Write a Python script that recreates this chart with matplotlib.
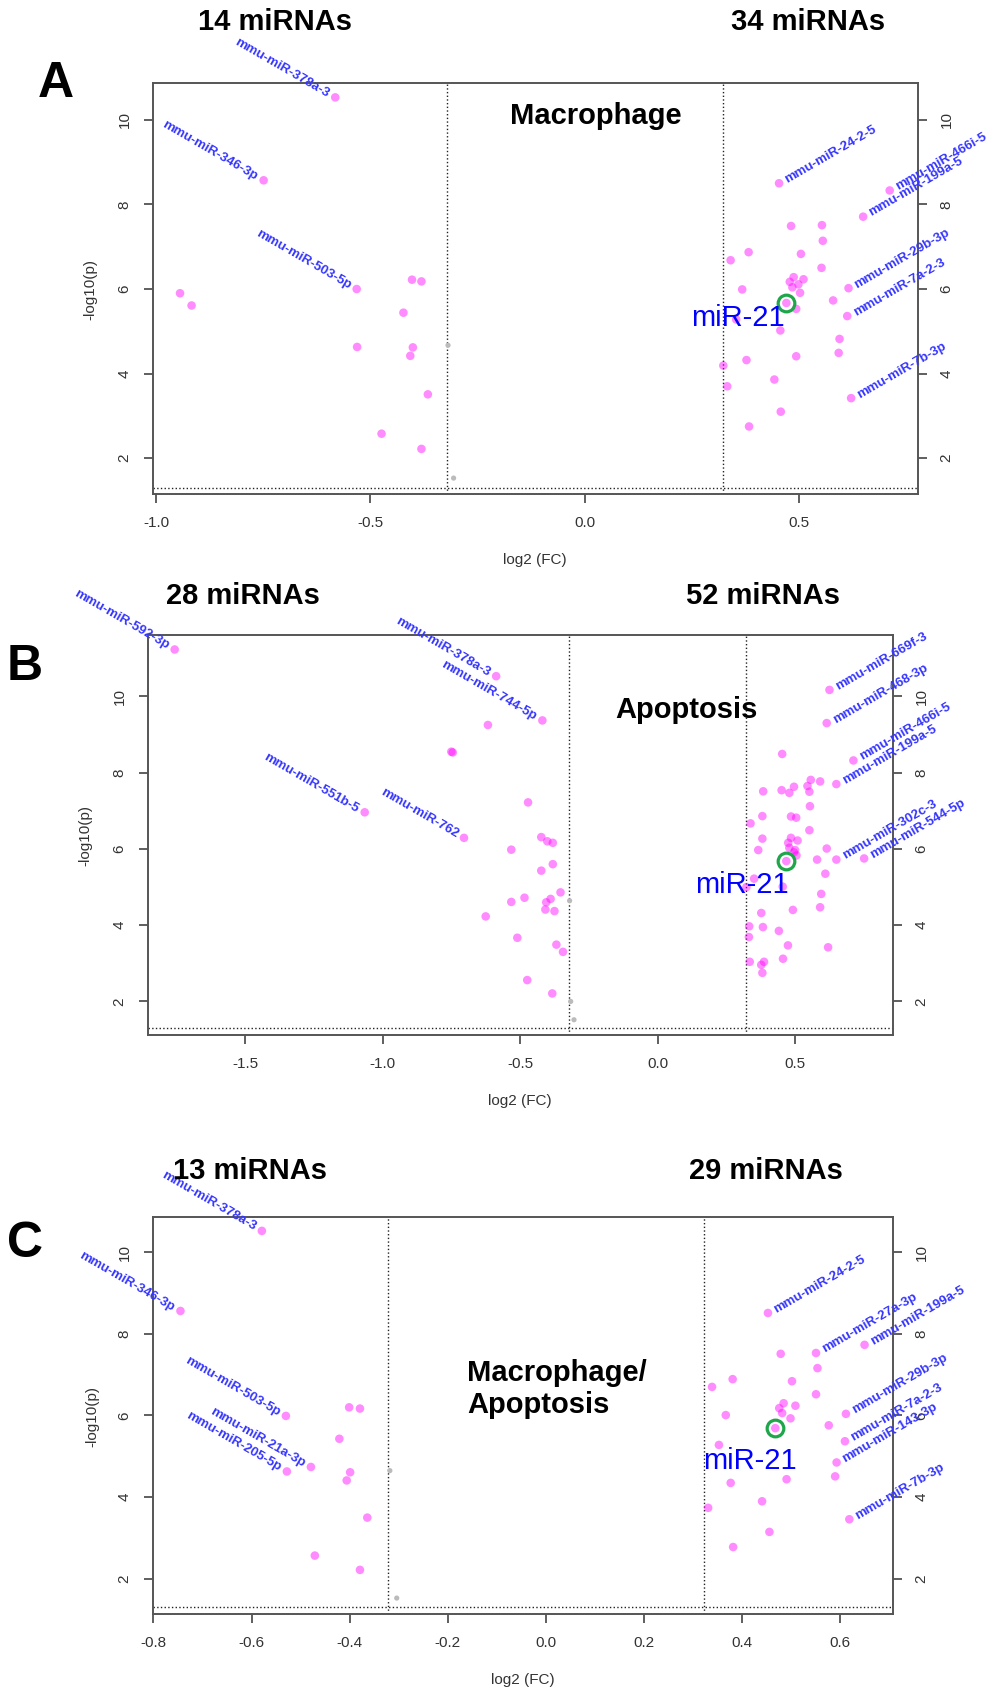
import matplotlib
matplotlib.use("Agg")
import matplotlib.pyplot as plt
import numpy as np

plt.rcParams['font.family'] = ['Liberation Sans', 'DejaVu Sans']

## ======= data

# Panel A - Macrophage
a_dn_x = [-0.944, -0.917, -0.403, -0.381, -0.423, -0.531, -0.401, -0.407, -0.366, -0.474, -0.381]
a_dn_y = [5.90, 5.61, 6.22, 6.18, 5.44, 4.63, 4.62, 4.42, 3.51, 2.58, 2.22]
a_dn_lab = ["mmu-miR-378a-3", "mmu-miR-346-3p", "mmu-miR-503-5p"]
a_dn_lab_x = [-0.582, -0.749, -0.532]
a_dn_lab_y = [10.53, 8.57, 6.00]
a_up_x = [0.481, 0.553, 0.555, 0.382, 0.340, 0.504, 0.552, 0.487, 0.510, 0.478, 0.484, 0.498,
          0.367, 0.502, 0.579, 0.470, 0.493, 0.456, 0.594, 0.592, 0.377, 0.493, 0.323, 0.332,
          0.442, 0.457, 0.383, 0.353]
a_up_y = [7.49, 7.51, 7.14, 6.87, 6.68, 6.83, 6.50, 6.28, 6.23, 6.17, 6.04, 6.11,
          5.99, 5.91, 5.73, 5.67, 5.53, 5.02, 4.82, 4.49, 4.32, 4.41, 4.19, 3.70,
          3.86, 3.10, 2.75, 5.28]
a_up_lab = ["mmu-miR-24-2-5", "mmu-miR-466i-5", "mmu-miR-199a-5", "mmu-miR-29b-3p",
            "mmu-miR-7a-2-3", "mmu-miR-7b-3p"]
a_up_lab_x = [0.453, 0.711, 0.649, 0.615, 0.612, 0.621]
a_up_lab_y = [8.50, 8.33, 7.71, 6.02, 5.36, 3.42]
a_ns_x = [-0.319, -0.306]
a_ns_y = [4.67, 1.53]
a_mir21 = (0.470, 5.67)

# Panel B - Apoptosis
b_dn_x = [-0.617, -0.750, -0.745, -0.625, -0.471, -0.423, -0.401, -0.381, -0.532, -0.381,
          -0.423, -0.353, -0.484, -0.389, -0.405, -0.532, -0.408, -0.375, -0.510, -0.368,
          -0.344, -0.474, -0.383]
b_dn_y = [9.25, 8.55, 8.53, 4.23, 7.22, 6.31, 6.20, 6.16, 5.98, 5.60,
          5.43, 4.86, 4.72, 4.69, 4.60, 4.61, 4.41, 4.37, 3.67, 3.49,
          3.30, 2.56, 2.21]
b_dn_lab = ["mmu-miR-592-3p", "mmu-miR-378a-3", "mmu-miR-744-5p", "mmu-miR-551b-5", "mmu-miR-762"]
b_dn_lab_x = [-1.756, -0.587, -0.419, -1.065, -0.704]
b_dn_lab_y = [11.23, 10.53, 9.37, 6.96, 6.29]
b_up_x = [0.453, 0.384, 0.451, 0.479, 0.496, 0.545, 0.557, 0.591, 0.552, 0.554,
          0.381, 0.485, 0.504, 0.338, 0.552, 0.381, 0.485, 0.509, 0.475, 0.479,
          0.366, 0.615, 0.496, 0.505, 0.580, 0.468, 0.610, 0.351, 0.455, 0.323,
          0.595, 0.591, 0.492, 0.377, 0.333, 0.383, 0.441, 0.332, 0.474, 0.620,
          0.456, 0.335, 0.387, 0.377, 0.381, 0.500]
b_up_y = [8.49, 7.51, 7.54, 7.47, 7.63, 7.65, 7.81, 7.77, 7.50, 7.12,
          6.86, 6.85, 6.82, 6.67, 6.49, 6.27, 6.29, 6.22, 6.16, 6.03,
          5.97, 6.01, 5.91, 5.83, 5.72, 5.68, 5.35, 5.22, 5.01, 5.00,
          4.82, 4.47, 4.40, 4.32, 3.97, 3.95, 3.85, 3.69, 3.47, 3.42,
          3.12, 3.04, 3.04, 2.96, 2.75, 5.97]
b_up_lab = ["mmu-miR-669f-3", "mmu-miR-468-3p", "mmu-miR-466i-5", "mmu-miR-199a-5",
            "mmu-miR-302c-3", "mmu-miR-544-5p"]
b_up_lab_x = [0.625, 0.615, 0.712, 0.650, 0.650, 0.751]
b_up_lab_y = [10.17, 9.30, 8.32, 7.70, 5.72, 5.75]
b_ns_x = [-0.320, -0.316, -0.304]
b_ns_y = [4.64, 2.00, 1.52]
b_mir21 = (0.468, 5.68)

# Panel C - Macrophage/Apoptosis
c_dn_x = [-0.401, -0.379, -0.421, -0.399, -0.406, -0.364, -0.471, -0.379]
c_dn_y = [6.20, 6.17, 5.43, 4.61, 4.41, 3.50, 2.57, 2.22]
c_dn_lab = ["mmu-miR-378a-3", "mmu-miR-346-3p", "mmu-miR-503-5p", "mmu-miR-21a-3p", "mmu-miR-205-5p"]
c_dn_lab_x = [-0.579, -0.745, -0.530, -0.479, -0.528]
c_dn_lab_y = [10.52, 8.56, 5.99, 4.74, 4.63]
c_up_x = [0.479, 0.554, 0.381, 0.339, 0.502, 0.551, 0.485, 0.509, 0.476, 0.482, 0.367,
          0.499, 0.577, 0.468, 0.353, 0.590, 0.377, 0.491, 0.331, 0.441, 0.456, 0.382]
c_up_y = [7.51, 7.16, 6.89, 6.70, 6.84, 6.52, 6.30, 6.24, 6.18, 6.06, 6.01,
          5.93, 5.76, 5.69, 5.28, 4.51, 4.35, 4.44, 3.74, 3.90, 3.15, 2.78]
c_up_lab = ["mmu-miR-24-2-5", "mmu-miR-27a-3p", "mmu-miR-199a-5", "mmu-miR-29b-3p",
            "mmu-miR-7a-2-3", "mmu-miR-143-3p", "mmu-miR-7b-3p"]
c_up_lab_x = [0.453, 0.551, 0.650, 0.612, 0.610, 0.593, 0.619]
c_up_lab_y = [8.51, 7.53, 7.73, 6.04, 5.37, 4.85, 3.46]
c_ns_x = [-0.318, -0.304]
c_ns_y = [4.65, 1.53]
c_mir21 = (0.468, 5.69)

# fold-change / p thresholds
fc_cut = np.log2(1.25)
p_cut = -np.log10(0.05)

## ======= layout (pixel positions in the 993 x 1692 picture)
W, H = 993, 1692
fig = plt.figure(figsize=(W / 100, H / 100), dpi=100)

pink = '#ff00ff'
lab_col = '#3535ff'
txt_col = '#333333'


def fx(px):
    return px / W


def fy(py):
    return 1 - py / H


def draw_panel(box, xlim, ylim, xticks,
               dn_x, dn_y, dn_lab, dn_lab_x, dn_lab_y,
               up_x, up_y, up_lab, up_lab_x, up_lab_y,
               ns_x, ns_y, mir21):
    l, t, r, b = box
    ax = fig.add_axes([fx(l), fy(b), (r - l) / W, (b - t) / H])

    # threshold lines
    ax.axvline(-fc_cut, color='#222222', lw=1, ls=':')
    ax.axvline(fc_cut, color='#222222', lw=1, ls=':')
    ax.axhline(p_cut, color='#222222', lw=1, ls=':')

    # points
    ax.scatter(ns_x, ns_y, s=14, color='#bbbbbb', edgecolors='none', zorder=3)
    ax.scatter(dn_x + dn_lab_x, dn_y + dn_lab_y, s=38, color=pink, alpha=0.45,
               edgecolors='none', zorder=3)
    ax.scatter(up_x + up_lab_x, up_y + up_lab_y, s=38, color=pink, alpha=0.45,
               edgecolors='none', zorder=3)

    # miRNA labels, slanted like the R output
    for name, x, y in zip(dn_lab, dn_lab_x, dn_lab_y):
        ax.annotate(name, (x, y), xytext=(-5, 2), textcoords='offset points',
                    rotation=-30, rotation_mode='anchor', ha='right', va='center',
                    fontsize=9.5, fontweight='bold', color=lab_col, annotation_clip=False)
    for name, x, y in zip(up_lab, up_lab_x, up_lab_y):
        ax.annotate(name, (x, y), xytext=(5, 2), textcoords='offset points',
                    rotation=30, rotation_mode='anchor', ha='left', va='center',
                    fontsize=9.5, fontweight='bold', color=lab_col, annotation_clip=False)

    # miR-21 highlight
    ax.plot([mir21[0]], [mir21[1]], 'o', mfc='none', mec='#1fa64a', ms=12, mew=2.3, zorder=4)

    ax.set_xlim(*xlim)
    ax.set_ylim(*ylim)
    ax.set_xticks(xticks)
    ax.set_xticklabels([f"{v:.1f}" for v in xticks])
    ax.set_yticks([2, 4, 6, 8, 10])
    ax.set_yticklabels(['2', '4', '6', '8', '10'])

    for s in ax.spines.values():
        s.set_color('#555555')
        s.set_linewidth(1.4)
    ax.tick_params(axis='both', colors='#444444', labelcolor=txt_col, labelsize=11,
                   length=6.5, width=1.2)
    ax.tick_params(axis='x', pad=9)
    ax.tick_params(axis='y', left=True, right=True, labelleft=True, labelright=True,
                   labelrotation=90, pad=9)
    for tk in ax.yaxis.get_major_ticks():
        tk.label1.set_va('center')
        tk.label2.set_va('center')
    return ax


ax_a = draw_panel((153, 83, 918, 494), (-1.007, 0.777), (1.154, 10.87), [-1.0, -0.5, 0.0, 0.5],
                  a_dn_x, a_dn_y, a_dn_lab, a_dn_lab_x, a_dn_lab_y,
                  a_up_x, a_up_y, a_up_lab, a_up_lab_x, a_up_lab_y,
                  a_ns_x, a_ns_y, a_mir21)
ax_b = draw_panel((148, 635, 893, 1035), (-1.853, 0.856), (1.12, 11.61),
                  [-1.5, -1.0, -0.5, 0.0, 0.5],
                  b_dn_x, b_dn_y, b_dn_lab, b_dn_lab_x, b_dn_lab_y,
                  b_up_x, b_up_y, b_up_lab, b_up_lab_x, b_up_lab_y,
                  b_ns_x, b_ns_y, b_mir21)
ax_c = draw_panel((153, 1217, 893, 1614), (-0.801, 0.708), (1.14, 10.86),
                  [-0.8, -0.6, -0.4, -0.2, 0.0, 0.2, 0.4, 0.6],
                  c_dn_x, c_dn_y, c_dn_lab, c_dn_lab_x, c_dn_lab_y,
                  c_up_x, c_up_y, c_up_lab, c_up_lab_x, c_up_lab_y,
                  c_ns_x, c_ns_y, c_mir21)

# axis titles
for (xx, yy) in [(535, 560), (520, 1101), (523, 1680)]:
    fig.text(fx(xx), fy(yy), 'log2 (FC)', ha='center', va='center', fontsize=11, color=txt_col)
for (xx, yy) in [(90, 289), (85, 835), (92, 1416)]:
    fig.text(fx(xx), fy(yy), '-log10(p)', ha='center', va='center', fontsize=11,
             color=txt_col, rotation=90)

# panel letters
fig.text(fx(56), fy(84), 'A', ha='center', va='center', fontsize=36, fontweight='bold')
fig.text(fx(25), fy(667), 'B', ha='center', va='center', fontsize=36, fontweight='bold')
fig.text(fx(25), fy(1244), 'C', ha='center', va='center', fontsize=36, fontweight='bold')

# counts above each side
heads = [(275, 22, '14 miRNAs'), (808, 22, '34 miRNAs'),
         (243, 596, '28 miRNAs'), (763, 596, '52 miRNAs'),
         (250, 1171, '13 miRNAs'), (766, 1171, '29 miRNAs')]
for xx, yy, s in heads:
    fig.text(fx(xx), fy(yy), s, ha='center', va='center', fontsize=21, fontweight='bold')

# condition names
fig.text(fx(596), fy(116), 'Macrophage', ha='center', va='center', fontsize=21, fontweight='bold')
fig.text(fx(686), fy(710), 'Apoptosis', ha='center', va='center', fontsize=21, fontweight='bold')
fig.text(fx(467), fy(1389), 'Macrophage/\nApoptosis', ha='left', va='center', fontsize=21,
         fontweight='bold', linespacing=1.15)

# miR-21 callouts
for xx, yy in [(738, 318), (742, 885), (750, 1461)]:
    fig.text(fx(xx), fy(yy), 'miR-21', ha='center', va='center', fontsize=21, color='#0000ff')

plt.savefig('out.png', dpi=100)
